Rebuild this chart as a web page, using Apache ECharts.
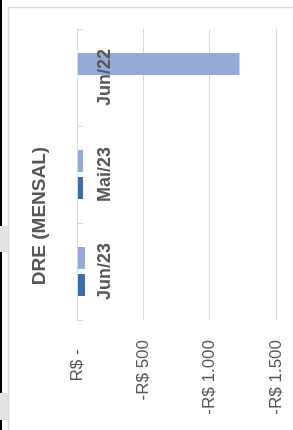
<!DOCTYPE html>
<html>
<head>
<meta charset="utf-8">
<script src="https://cdn.jsdelivr.net/npm/echarts@6/dist/echarts.min.js"></script>
<style>
  html, body { margin: 0; padding: 0; background: #fff; }
  #chart { width: 293px; height: 430px; }
</style>
</head>
<body>
<div id="chart"></div>
<script>
// monthly DRE, values in R$ (negative)
const categories = ['Jun/22', 'Mai/23', 'Jun/23']
const seriesLight = [-1225, -45, -60]
const seriesDark = [0, -45, -60]
const valueTicks = [0, -500, -1000, -1500]

const fmt = (v) => {
  if (v === 0) return 'R$ -  '
  const s = Math.abs(v).toString().replace(/\B(?=(\d{3})+(?!\d))/g, '.')
  return (v < 0 ? '-' : '') + 'R$ ' + s
}

const gray = '#595959'
const lineGray = '#d9d9d9'
const font = '"Liberation Sans", Arial, sans-serif'

const chart = echarts.init(document.getElementById('chart'), null, { renderer: 'canvas' })
const option = {
  animation: false,
  backgroundColor: '#fff',
  grid: { left: 77, right: 17, top: 29, bottom: 110, containLabel: false },
  xAxis: {
    type: 'value',
    min: valueTicks[valueTicks.length - 1],
    max: valueTicks[0],
    interval: 500,
    inverse: true,
    axisLine: { show: false },
    axisTick: { show: false },
    splitLine: { lineStyle: { color: lineGray, width: 1 } },
    axisLabel: {
      rotate: 90,
      margin: 20,
      color: gray,
      fontSize: 17,
      fontFamily: font,
      formatter: fmt,
    },
  },
  yAxis: {
    type: 'category',
    data: categories,
    inverse: true,
    z: 5,
    axisLine: { show: true, lineStyle: { color: lineGray, width: 1 } },
    axisTick: { show: true, inside: true, length: 6, lineStyle: { color: lineGray } },
    axisLabel: {
      inside: true,
      rotate: 90,
      margin: 19,
      color: gray,
      fontSize: 18,
      fontWeight: 'bold',
      fontFamily: font,
    },
  },
  series: [
    {
      name: 'light',
      type: 'bar',
      data: seriesLight,
      barWidth: 22,
      barGap: '23%',
      itemStyle: { color: '#95aad6' },
    },
    {
      name: 'dark',
      type: 'bar',
      data: seriesDark,
      barWidth: 22,
      itemStyle: { color: '#3f6aa8' },
    },
  ],
  graphic: [
    // frame of the screenshot
    { type: 'rect', shape: { x: 0, y: 0, width: 2, height: 430 }, style: { fill: '#000' }, silent: true },
    { type: 'rect', shape: { x: 0, y: 226, width: 8, height: 26 }, style: { fill: '#e4e4e8' }, silent: true },
    { type: 'rect', shape: { x: 0, y: 393, width: 8, height: 27 }, style: { fill: '#e4e4e8' }, silent: true },
    { type: 'line', shape: { x1: 8.5, y1: 7, x2: 8.5, y2: 430 }, style: { stroke: lineGray, lineWidth: 1.5 }, silent: true },
    { type: 'line', shape: { x1: 8, y1: 7.5, x2: 293, y2: 7.5 }, style: { stroke: lineGray, lineWidth: 1.5 }, silent: true },
    {
      type: 'text',
      x: 40,
      y: 216,
      rotation: Math.PI / 2,
      style: {
        text: 'DRE (MENSAL)',
        fill: gray,
        font: 'bold 19px ' + font,
        textAlign: 'center',
        textVerticalAlign: 'middle',
      },
    },
  ],
}
chart.setOption(option)
</script>
</body>
</html>
